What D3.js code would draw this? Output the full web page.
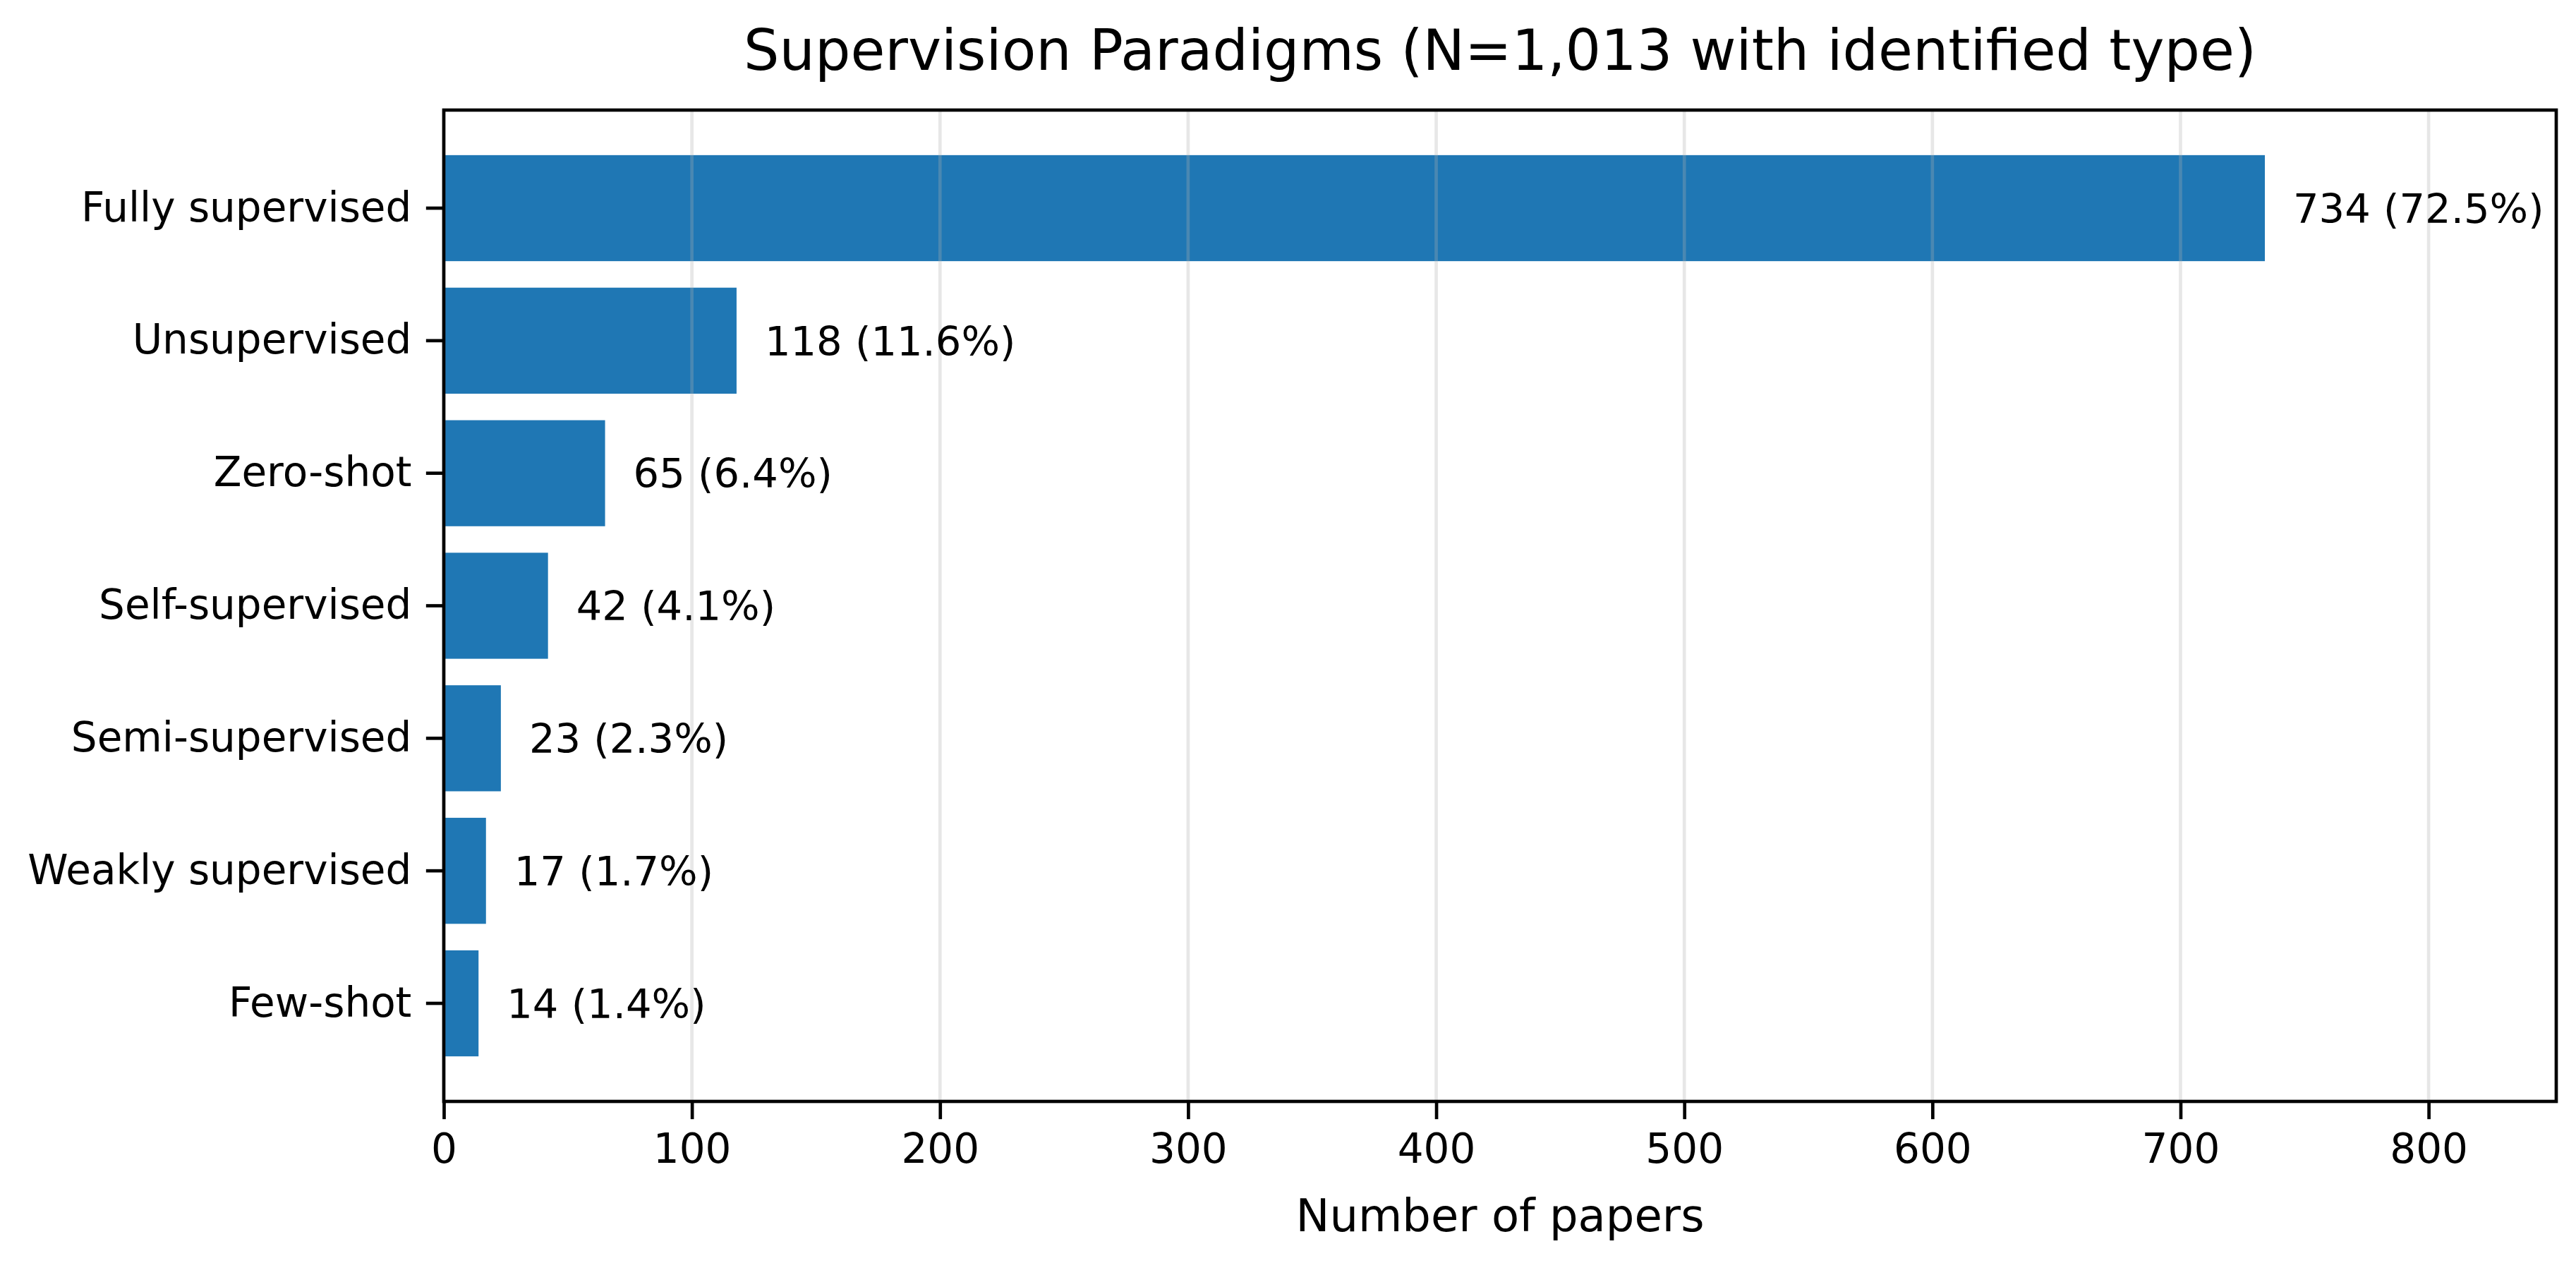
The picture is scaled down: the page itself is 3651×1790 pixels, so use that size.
<!DOCTYPE html>
<html>
<head>
<meta charset="utf-8">
<script src="https://cdn.jsdelivr.net/npm/d3@7"></script>
<style>
  html, body { margin: 0; padding: 0; background: #ffffff; }
  svg { display: block; font-family: "DejaVu Sans", sans-serif; }
</style>
</head>
<body>
<script>
// ---- data ----
const categories = ["Fully supervised", "Unsupervised", "Zero-shot", "Self-supervised",
                    "Semi-supervised", "Weakly supervised", "Few-shot"];
const counts = [734, 118, 65, 42, 23, 17, 14];
const totalN = 1013;
const xTicks = [0, 100, 200, 300, 400, 500, 600, 700, 800];
const titleText = "Supervision Paradigms (N=1,013 with identified type)";
const xLabelText = "Number of papers";

// ---- layout ----
const W = 3651, H = 1790;
const px = 5.85; // pixels per point
const margin = { left: 629, right: 28, top: 156, bottom: 229 };
const plotW = W - margin.left - margin.right;
const plotH = H - margin.top - margin.bottom;

const svg = d3.select("body").append("svg")
  .attr("width", W).attr("height", H)
  .attr("viewBox", `0 0 ${W} ${H}`);

const x = d3.scaleLinear()
  .domain([0, d3.max(counts) * 1.16])
  .range([margin.left, margin.left + plotW]);

const y = d3.scaleBand()
  .domain(categories)
  .range([margin.top, margin.top + plotH])
  .paddingInner(0.2)
  .paddingOuter(0.34);

const data = categories.map((c, i) => ({ cat: c, v: counts[i] }));

// bars
svg.append("g").selectAll("rect").data(data).join("rect")
  .attr("x", x(0))
  .attr("y", d => y(d.cat))
  .attr("width", d => x(d.v) - x(0))
  .attr("height", y.bandwidth())
  .attr("fill", "#1f77b4");

// grid (drawn over bars)
svg.append("g").selectAll("line").data(xTicks).join("line")
  .attr("x1", d => x(d)).attr("x2", d => x(d))
  .attr("y1", margin.top).attr("y2", margin.top + plotH)
  .attr("stroke", "#b0b0b0")
  .attr("stroke-opacity", 0.3)
  .attr("stroke-width", 0.8 * px);

// value labels
const labelOffset = d3.max(counts) * 0.0155;
svg.append("g").selectAll("text").data(data).join("text")
  .attr("x", d => x(d.v + labelOffset))
  .attr("y", d => y(d.cat) + y.bandwidth() / 2)
  .attr("dy", "0.36em")
  .attr("font-size", 57.5)
  .attr("fill", "#000")
  .text(d => `${d.v} (${(d.v / totalN * 100).toFixed(1)}%)`);

// axes
const xAxis = d3.axisBottom(x).tickValues(xTicks).tickSize(4.3 * px).tickPadding(3.5 * px).tickFormat(d3.format("d"));
const gx = svg.append("g").attr("transform", `translate(0,${margin.top + plotH})`).call(xAxis);
gx.select(".domain").remove();
gx.selectAll(".tick line").attr("stroke", "#000").attr("stroke-width", 0.8 * px);
gx.selectAll(".tick text").attr("font-size", 58).attr("fill", "#000")
  .attr("font-family", "DejaVu Sans, sans-serif");

const yAxis = d3.axisLeft(y).tickSize(4.3 * px).tickPadding(3.5 * px);
const gy = svg.append("g").attr("transform", `translate(${margin.left},0)`).call(yAxis);
gy.select(".domain").remove();
gy.selectAll(".tick line").attr("stroke", "#000").attr("stroke-width", 0.8 * px);
gy.selectAll(".tick text").attr("font-size", 58).attr("fill", "#000")
  .attr("font-family", "DejaVu Sans, sans-serif");

// frame
svg.append("rect")
  .attr("x", margin.left).attr("y", margin.top)
  .attr("width", plotW).attr("height", plotH)
  .attr("fill", "none").attr("stroke", "#000")
  .attr("stroke-width", 0.8 * px);

// title
svg.append("text")
  .attr("x", margin.left + plotW / 2)
  .attr("y", 99)
  .attr("text-anchor", "middle")
  .attr("font-size", 79.5)
  .attr("fill", "#000")
  .text(titleText);

// x label
svg.append("text")
  .attr("x", margin.left + plotW / 2)
  .attr("y", 1745)
  .attr("text-anchor", "middle")
  .attr("font-size", 64)
  .attr("fill", "#000")
  .text(xLabelText);
</script>
</body>
</html>
